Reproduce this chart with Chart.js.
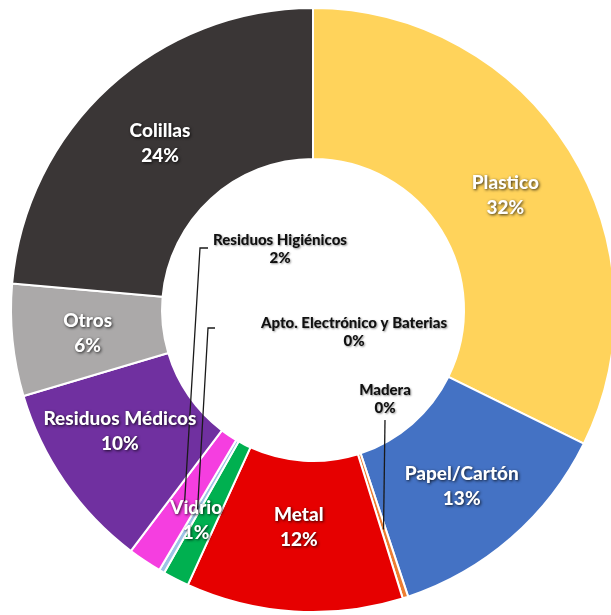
<!DOCTYPE html>
<html>
<head>
<meta charset="utf-8">
<script src="https://cdn.jsdelivr.net/npm/chart.js@4"></script>
<style>
  html, body { margin: 0; padding: 0; background: #fff; overflow: hidden; }
</style>
</head>
<body>
<canvas id="pieChart" width="622" height="615"></canvas>
<script>
// Categorias en el orden del grafico (sentido horario desde arriba)
const categorias = ['Plastico', 'Papel/Cartón', 'Madera', 'Metal', 'Vidrio',
  'Apto. Electrónico y Baterias', 'Residuos Higiénicos', 'Residuos Médicos', 'Otros', 'Colillas'];
const porcentajes = [32.3, 12.6, 0.3, 11.6, 1.4, 0.3, 1.8, 10.1, 6.0, 23.6];
const colores = ['#FFD35B', '#4472C4', '#ED7D31', '#E60000', '#00B050',
  '#9DC3E6', '#F53EE0', '#7030A0', '#ABA9A9', '#3A3636'];

const FUENTE = "Lato, 'Open Sans', sans-serif";

// etiquetas que van dentro del hueco con linea guia
const etiquetasHueco = {
  'Residuos Higiénicos': { x: 280, y: 240, guia: [[208, 248], [200, 248]] },
  'Apto. Electrónico y Baterias': { x: 354, y: 323, guia: [[215, 328], [208, 328]] },
  'Madera': { x: 385, y: 390, guia: [[385, 420]] }
};
// pequeños ajustes de posicion para algunas etiquetas
const ajustes = { 'Metal': [0, -9], 'Vidrio': [-14, 8], 'Residuos Médicos': [-7, -8], 'Plastico': [0, 4], 'Papel/Cartón': [0, 5] };

const etiquetasPlugin = {
  id: 'etiquetas',
  afterDatasetsDraw(chart) {
    const ctx = chart.ctx;
    const meta = chart.getDatasetMeta(0);
    const data = chart.data.datasets[0].data;
    const total = data.reduce((a, b) => a + b, 0);

    meta.data.forEach((arc, i) => {
      const p = arc.getProps(['x', 'y', 'startAngle', 'endAngle', 'innerRadius', 'outerRadius'], true);
      const mid = (p.startAngle + p.endAngle) / 2;
      const nombre = chart.data.labels[i];
      const pct = Math.round(data[i] / total * 100) + '%';
      const hueco = etiquetasHueco[nombre];

      ctx.save();
      ctx.textAlign = 'center';
      ctx.textBaseline = 'middle';

      if (hueco) {
        const r = (p.innerRadius + p.outerRadius) / 2 + 4;
        const px = p.x + Math.cos(mid) * r;
        const py = p.y + Math.sin(mid) * r;
        ctx.strokeStyle = '#1a1a1a';
        ctx.lineWidth = 1.3;
        ctx.beginPath();
        hueco.guia.forEach((pt, k) => k === 0 ? ctx.moveTo(pt[0], pt[1]) : ctx.lineTo(pt[0], pt[1]));
        ctx.lineTo(px, py);
        ctx.stroke();

        ctx.shadowColor = 'rgba(0,0,0,0.4)';
        ctx.shadowBlur = 2;
        ctx.shadowOffsetX = 1;
        ctx.shadowOffsetY = 1;
        ctx.fillStyle = '#111';
        ctx.font = '900 15px ' + FUENTE;
        ctx.fillText(nombre, hueco.x, hueco.y);
        ctx.fillText(pct, hueco.x, hueco.y + 18);
      } else {
        const r = (p.innerRadius + p.outerRadius) / 2;
        const aj = ajustes[nombre] || [0, 0];
        const cx = p.x + Math.cos(mid) * r + aj[0];
        const cy = p.y + Math.sin(mid) * r + aj[1];
        ctx.shadowColor = 'rgba(0,0,0,0.8)';
        ctx.shadowBlur = 3;
        ctx.shadowOffsetX = 1;
        ctx.shadowOffsetY = 1;
        ctx.fillStyle = '#fff';
        ctx.font = '900 19px ' + FUENTE;
        ctx.fillText(nombre, cx, cy - 12);
        ctx.fillText(pct, cx, cy + 13);
      }
      ctx.restore();
    });
  }
};

const ctxPie = document.getElementById('pieChart');
new Chart(ctxPie, {
  type: 'doughnut',
  data: {
    labels: categorias,
    datasets: [{
      data: porcentajes,
      backgroundColor: colores,
      borderColor: '#ffffff',
      borderWidth: 2,
      hoverOffset: 0
    }]
  },
  options: {
    responsive: false,
    animation: false,
    cutout: '50%',
    layout: { padding: { left: 10, top: 7, right: 6, bottom: 2 } },
    plugins: {
      legend: { display: false },
      tooltip: { enabled: false }
    }
  },
  plugins: [etiquetasPlugin]
});
</script>
</body>
</html>
